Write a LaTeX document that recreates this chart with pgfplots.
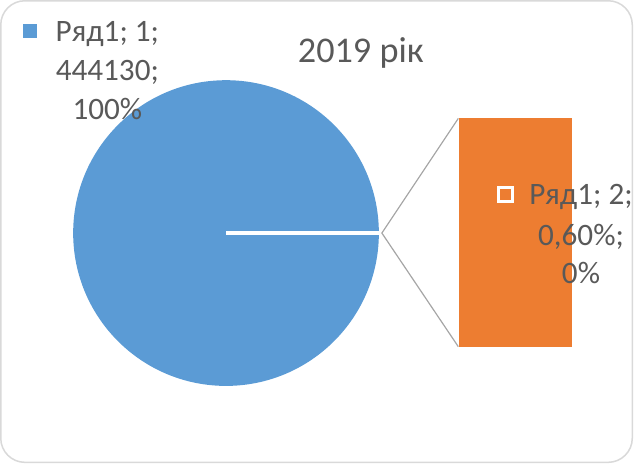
\documentclass[border=0pt]{standalone}
\usepackage{pgfplots}
\pgfplotsset{compat=1.18}
\usepackage{fontspec}
\setmainfont{Carlito}

\definecolor{pieblue}{HTML}{5B9BD5}
\definecolor{barorange}{HTML}{ED7D31}
\definecolor{txtgray}{HTML}{595959}
\definecolor{linegray}{HTML}{A6A6A6}
\definecolor{framegray}{HTML}{D9D9D9}

\begin{document}
\begin{tikzpicture}
\begin{axis}[
    width=636pt, height=466pt,
    scale only axis,
    xmin=0, xmax=636,
    ymin=0, ymax=466,
    y dir=reverse,
    hide axis,
    clip=false,
]
    % frame
    \draw[framegray, line width=1.5pt, rounded corners=24pt]
        (axis cs:4,4) rectangle (axis cs:632,463);

    % pie: one slice is the whole circle, the second is ~0
    \fill[pieblue] (axis cs:228,235) circle[radius=152];
    \addplot[white, line width=4pt] coordinates {(228,235) (380,235)};

    % connectors
    \addplot[linegray, line width=1.2pt] coordinates {(459,121) (383,235) (459,348)};

    % bar of pie
    \addplot[fill=barorange, draw=none] coordinates {(460,121) (572,121) (572,348) (460,348)};

    % legend keys of the labels
    \addplot[pieblue, only marks, mark=square*, mark size=6.5pt, mark options={fill=pieblue, draw=pieblue, line width=0pt}]
        coordinates {(33.5,34)};
    \addplot[white, only marks, mark=square*, mark size=7pt, mark options={fill=barorange, draw=white, line width=3pt}]
        coordinates {(506,196.5)};

    % title
    \node[anchor=base, text=txtgray, font=\fontsize{36}{42}\selectfont] at (axis cs:362,65) {2019 рік};

    % data labels
    \begin{scope}[every node/.style={anchor=base, text=txtgray, font=\fontsize{31}{38}\selectfont}]
    \node at (axis cs:110,45) {Ряд1; 1;};
    \node at (axis cs:110,83) {444130;};
    \node at (axis cs:110,122) {100\%};
    \node at (axis cs:581,207) {Ряд1; 2;};
    \node at (axis cs:581,247) {0,60\%;};
    \node at (axis cs:581,285) {0\%};
    \end{scope}
\end{axis}
\end{tikzpicture}
\end{document}
